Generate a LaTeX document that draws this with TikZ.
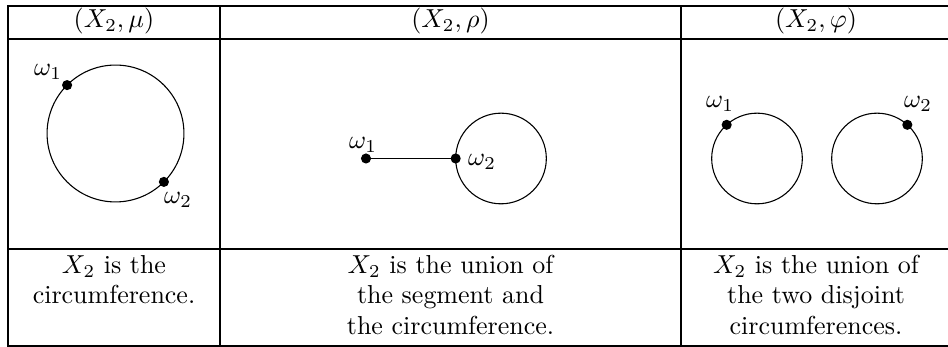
\documentclass[tikz,border=0pt]{standalone}
\begin{document}
\begin{tikzpicture}[x=0.385pt,y=-0.385pt,
  rule/.style={line width=0.78pt},
  seg/.style={line width=0.42pt},
  ring/.style={circle,draw,line width=0.42pt,inner sep=0pt,outer sep=0pt},
  dot/.style={circle,fill,inner sep=0pt,minimum size=3.9pt},
  lbl/.style={inner sep=0pt},
  cell/.style={inner sep=0pt,align=center,anchor=north,font=\fontsize{10}{11.6}\selectfont}]
\useasboundingbox (0,0) rectangle (948,347);
% table rules
\draw[rule] (948,6) -- (8,6) -- (8,346) -- (948,346);
\draw[rule] (8,39) -- (948,39);
\draw[rule] (8,249) -- (948,249);
\draw[rule] (220,6) -- (220,346);
\draw[rule] (681,6) -- (681,346);
% headers
\node[lbl] (h1) at (114,21.5) {$(X_2,\mu)$};
\node[lbl] (h2) at (450.5,21.5) {$(X_2,\rho)$};
\node[lbl] (h3) at (816,21.5) {$(X_2,\varphi)$};
% left column
\node[ring,minimum size=52.7pt] (A) at (115.5,133.5) {};
\node[dot] (a1) at (A.135) {};
\node[dot] (a2) at (A.-45) {};
\node[lbl] (la1) at (48,72) {$\omega_1$};
\node[lbl] (la2) at (178,200) {$\omega_2$};
% middle column
\node[ring,minimum size=34.9pt] (B) at (501,158.5) {};
\node[dot] (b2) at (B.180) {};
\node[dot] (b1) at (366,158.5) {};
\draw[seg] (b1.center) -- (b2.center);
\node[lbl] (lb1) at (363,145) {$\omega_1$};
\node[lbl] (lb2) at (482,162) {$\omega_2$};
% right column
\node[ring,minimum size=34.9pt] (C) at (757,158.5) {};
\node[ring,minimum size=34.9pt] (D) at (877,158.5) {};
\node[dot] (c1) at (C.132) {};
\node[dot] (d2) at (D.48) {};
\node[lbl] (lc1) at (720,104) {$\omega_1$};
\node[lbl] (ld2) at (918,104) {$\omega_2$};
% captions
\node[cell] (t1) at (114,255) {$X_2$ is the\\circumference.};
\node[cell] (t2) at (450.5,255) {$X_2$ is the union of\\the segment and\\the circumference.};
\node[cell] (t3) at (816,255) {$X_2$ is the union of\\the two disjoint\\circumferences.};
\end{tikzpicture}
\end{document}
